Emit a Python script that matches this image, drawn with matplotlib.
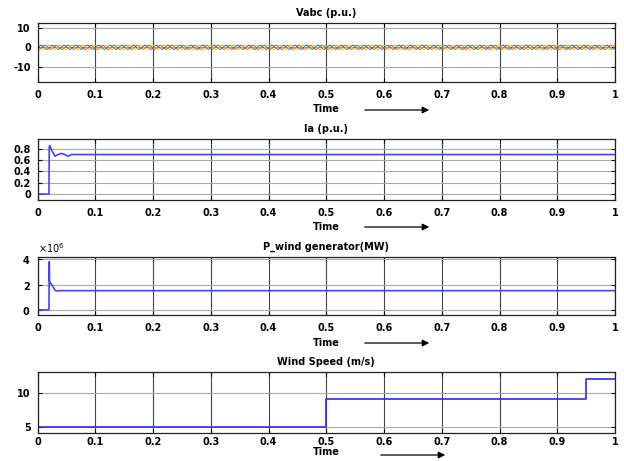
import numpy as np
import matplotlib
matplotlib.use("Agg")
import matplotlib.pyplot as plt
from matplotlib.ticker import ScalarFormatter

plt.rcParams['font.family'] = ['DejaVu Sans']
plt.rcParams['font.weight'] = 'bold'
plt.rcParams['mathtext.default'] = 'regular'
plt.rcParams['axes.unicode_minus'] = False

# ---- data ----
# one 50 Hz cycle of phase a (p.u.), 24 samples
cycle_a = [0.0, 0.26, 0.5, 0.71, 0.87, 0.97, 1.0, 0.97, 0.87, 0.71, 0.5, 0.26,
           0.0, -0.26, -0.5, -0.71, -0.87, -0.97, -1.0, -0.97, -0.87, -0.71, -0.5, -0.26]
n_cycles = 50
vabc_start = [0.0, -17.5, 13.0]   # switching spike at t = 0 (a, b, c)

ia_t = [0, 0.0195, 0.0200, 0.0210, 0.0240, 0.0300, 0.0350, 0.0410, 0.0470, 0.0530, 0.0580, 1.0]
ia_v = [0, 0.0, 0.84, 0.86, 0.78, 0.67, 0.70, 0.72, 0.70, 0.67, 0.70, 0.70]

p_t = [0, 0.0195, 0.0200, 0.0205, 0.0215, 0.0250, 0.0300, 0.0340, 0.0400, 1.0]
p_v = [0, 0.0, 3.8e6, 2.3e6, 2.15e6, 1.95e6, 1.55e6, 1.5e6, 1.52e6, 1.52e6]

wind_t = [0, 0.5, 0.5, 0.95, 0.95, 1.0]
wind_v = [5, 5, 9, 9, 12, 12]

titles = ['Vabc (p.u.)', 'Ia (p.u.)', 'P_wind generator(MW)', 'Wind Speed (m/s)']
xticks = [0, 0.1, 0.2, 0.3, 0.4, 0.5, 0.6, 0.7, 0.8, 0.9, 1]
xticklabels = ['0', '0.1', '0.2', '0.3', '0.4', '0.5', '0.6', '0.7', '0.8', '0.9', '1']

# build three-phase signal from the cycle samples
n = len(cycle_a)
va = np.tile(cycle_a, n_cycles)
vb = np.tile(np.roll(cycle_a, n // 3), n_cycles)
vc = np.tile(np.roll(cycle_a, -n // 3), n_cycles)
tv = np.linspace(0, 1, len(va) + 1)[1:]
tv = np.concatenate([[0], tv])
va = np.concatenate([[vabc_start[0]], va])
vb = np.concatenate([[vabc_start[1]], vb])
vc = np.concatenate([[vabc_start[2]], vc])

W, H = 624, 461
fig = plt.figure(figsize=(W / 100, H / 100), dpi=100)

left, right = 37.7, 615
boxes = [(22.7, 81.7), (139.3, 199.7), (256.7, 315), (372.3, 432.7)]
axes = []
for top, bot in boxes:
    ax = fig.add_axes([left / W, 1 - bot / H, (right - left) / W, (bot - top) / H])
    axes.append(ax)

blue = '#4444ff'
axes[0].plot(tv, va, color='#0072BD', lw=0.7)
axes[0].plot(tv, vb, color='#D95319', lw=0.7)
axes[0].plot(tv, vc, color='#EDB120', lw=0.7)
axes[0].set_ylim(-17.5, 12.5)
axes[0].set_yticks([-10, 0, 10])

axes[1].plot(ia_t, ia_v, color=blue, lw=1.2)
axes[1].set_ylim(-0.1, 0.97)
axes[1].set_yticks([0, 0.2, 0.4, 0.6, 0.8])
axes[1].set_yticklabels(['0', '0.2', '0.4', '0.6', '0.8'])

axes[2].plot(p_t, p_v, color=blue, lw=1.2)
axes[2].set_ylim(-0.4e6, 4.2e6)
axes[2].set_yticks([0, 2e6, 4e6])
fmt = ScalarFormatter(useMathText=True)
fmt.set_powerlimits((0, 0))
axes[2].yaxis.set_major_formatter(fmt)
axes[2].yaxis.get_offset_text().set_fontsize(7)
axes[2].yaxis.get_offset_text().set_fontweight('normal')

axes[3].plot(wind_t, wind_v, color='#2a2aff', lw=1.2)
axes[3].set_ylim(4.1, 13)
axes[3].set_yticks([5, 10])

arrow_y = [110, 227, 343, 455]
for i, (ax, title, ay) in enumerate(zip(axes, titles, arrow_y)):
    last = i == len(axes) - 1
    ax.set_xlim(0, 1)
    ax.set_xticks(xticks)
    ax.set_xticklabels(xticklabels)
    ax.set_title(title, fontsize=7, fontweight='bold', pad=5)
    ax.set_xlabel('Time', fontsize=7, fontweight='bold', labelpad=0 if last else 3)
    ax.tick_params(direction='in', length=3, width=0.8, labelsize=7,
                   top=True, right=True)
    ax.tick_params(axis='x', pad=3 if last else 6)
    ax.tick_params(axis='y', pad=5)
    ax.grid(axis='x', color='#444444', lw=0.8)
    ax.grid(axis='y', color='#aaaaaa', lw=0.8)
    for s in ax.spines.values():
        s.set_linewidth(0.9)
        s.set_color('#222222')
    for lab in ax.get_xticklabels() + ax.get_yticklabels():
        lab.set_fontweight('bold')
    x0, x1 = (378, 448) if last else (362, 432)
    fig.add_artist(matplotlib.patches.FancyArrowPatch(
        (x0 / W, 1 - ay / H), (x1 / W, 1 - ay / H), transform=fig.transFigure,
        arrowstyle='-|>', mutation_scale=10, color='black', lw=0.9))

fig.savefig('out.png', dpi=100)
